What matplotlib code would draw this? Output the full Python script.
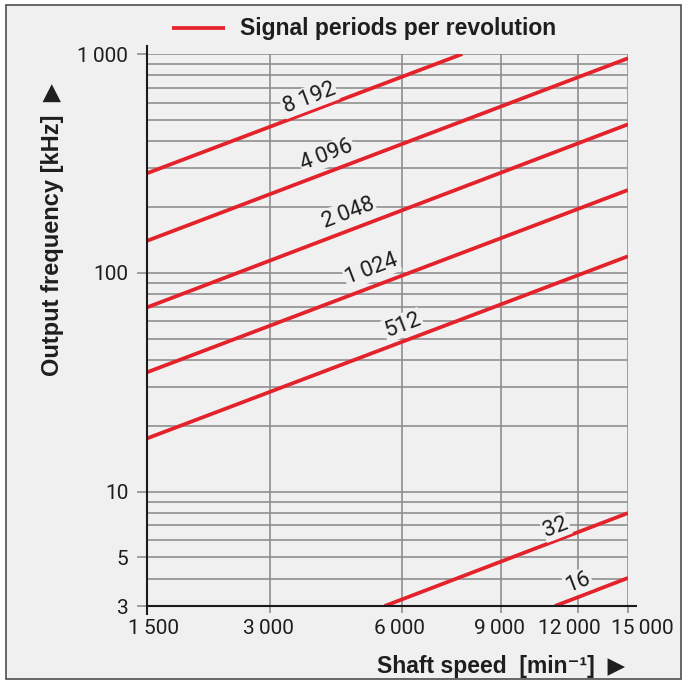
import numpy as np
import matplotlib
matplotlib.use('Agg')
import matplotlib.pyplot as plt
from matplotlib.lines import Line2D
from matplotlib.patches import Rectangle
from matplotlib.ticker import FixedLocator, FixedFormatter, NullFormatter
import matplotlib.transforms as mtransforms

# ---------------- data ----------------
periods = [8192, 4096, 2048, 1024, 512, 32, 16]
period_labels = ['8\u2009192', '4\u2009096', '2\u2009048', '1\u2009024', '512', '32', '16']
start_speed = [1500, 1500, 1500, 1500, 1500, 5480, 11010]   # min^-1
start_freq = [285, 140, 69.5, 35.1, 17.5, 3.0, 3.0]         # kHz
end_speed = [7680, 15000, 15000, 15000, 15000, 15000, 15000]
end_freq = [1000, 956, 477, 239, 119, 7.98, 4.03]

speed_ticks = [1500, 3000, 6000, 9000, 12000, 15000]
speed_tick_labels = ['1\u2009500', '3\u2009000', '6\u2009000', '9\u2009000', '12\u2009000', '15\u2009000']
freq_ticks = [3, 5, 10, 100, 1000]
freq_tick_labels = ['3', '5', '10', '100', '1\u2009000']
freq_minor = [4, 6, 7, 8, 9, 20, 30, 40, 50, 60, 70, 80, 90,
              200, 300, 400, 500, 600, 700, 800, 900]

# ---------------- layout / style ----------------
speed_axis_pos = [0.0, 0.2557, 0.530, 0.736, 0.896, 1.0]   # where the speed ticks sit along the axis
label_pos = [(0.337, 0.920), (0.374, 0.817), (0.418, 0.712), (0.467, 0.610),
             (0.532, 0.509), (0.850, 0.143), (0.896, 0.043)]
tick_label_dx = [7, -2, -2.5, -2, -9, 14]   # px nudges of speed labels

BG = '#f0f0f0'
RED = '#e4222c'
GRID = '#8f8f8f'
TXT = '#1e1e1e'
NUM_FONT = ['Roboto', 'DejaVu Sans']
BOLD_FONT = ['Liberation Sans', 'DejaVu Sans']

_lk = np.log10(speed_ticks)
_pk = np.asarray(speed_axis_pos)


def fwd(x):
    x = np.asarray(x, dtype=float)
    lx = np.log10(np.clip(x, 1e-12, None))
    out = np.interp(lx, _lk, _pk)
    s0 = (_pk[1] - _pk[0]) / (_lk[1] - _lk[0])
    s1 = (_pk[-1] - _pk[-2]) / (_lk[-1] - _lk[-2])
    out = np.where(lx < _lk[0], _pk[0] + (lx - _lk[0]) * s0, out)
    out = np.where(lx > _lk[-1], _pk[-1] + (lx - _lk[-1]) * s1, out)
    return out


def inv(p):
    p = np.asarray(p, dtype=float)
    out = np.interp(p, _pk, _lk)
    s0 = (_lk[1] - _lk[0]) / (_pk[1] - _pk[0])
    s1 = (_lk[-1] - _lk[-2]) / (_pk[-1] - _pk[-2])
    out = np.where(p < _pk[0], _lk[0] + (p - _pk[0]) * s0, out)
    out = np.where(p > _pk[-1], _lk[-1] + (p - _pk[-1]) * s1, out)
    return 10 ** out


W, H = 685, 683
fig = plt.figure(figsize=(W / 100, H / 100), dpi=100)
fig.patch.set_facecolor('white')

# panel frame (behind everything)
fig.patches.append(Rectangle((6 / W, 1 - 679 / H), (681 - 6) / W, (679 - 5) / H,
                             transform=fig.transFigure, facecolor=BG,
                             edgecolor='#4d4d4d', linewidth=1.2, zorder=-10))

ax = fig.add_axes([147 / W, 1 - 606 / H, 481 / W, 552 / H])
ax.set_zorder(1)
ax.patch.set_visible(False)

ax.set_yscale('log')
ax.set_xscale('function', functions=(fwd, inv))
ax.set_xlim(speed_ticks[0], speed_ticks[-1])
ax.set_ylim(freq_ticks[0], freq_ticks[-1])

ax.xaxis.set_major_locator(FixedLocator(speed_ticks))
ax.xaxis.set_major_formatter(NullFormatter())
ax.xaxis.set_minor_locator(FixedLocator([]))
ax.yaxis.set_major_locator(FixedLocator(freq_ticks))
ax.yaxis.set_major_formatter(FixedFormatter(freq_tick_labels))
ax.yaxis.set_minor_locator(FixedLocator(freq_minor))
ax.yaxis.set_minor_formatter(NullFormatter())

ax.grid(True, axis='x', which='major', color=GRID, linewidth=1.2, zorder=1)
ax.grid(True, axis='y', which='both', color=GRID, linewidth=1.2, zorder=1)
ax.set_axisbelow(True)

for s in ['top', 'right']:
    ax.spines[s].set_visible(False)
for s in ['left', 'bottom']:
    ax.spines[s].set_color('#1a1a1a')
    ax.spines[s].set_linewidth(1.5)
    ax.spines[s].set_zorder(5)

ax.tick_params(axis='y', which='major', length=7.5, width=1.2, color=GRID, pad=6,
               labelsize=15, labelcolor=TXT)
ax.tick_params(axis='y', which='minor', length=0)
ax.tick_params(axis='x', which='major', length=5, width=1.2, color=GRID)
for lab in ax.get_yticklabels():
    lab.set_family(NUM_FONT)

# speed tick labels (manually nudged like the original)
for v, txt, dx in zip(speed_ticks, speed_tick_labels, tick_label_dx):
    tr = mtransforms.blended_transform_factory(ax.transData, ax.transAxes) + \
        mtransforms.ScaledTranslation(dx / 100, -13 / 100, fig.dpi_scale_trans)
    ax.text(v, 0, txt, transform=tr, ha='center', va='top', fontsize=15,
            family=NUM_FONT, color=TXT)

# spine extensions
ax.plot([0, 0], [1, 1 + 9 / 552], transform=ax.transAxes, color='#1a1a1a', lw=1.5,
        clip_on=False, solid_capstyle='butt', zorder=5)
ax.plot([0, 0], [0, -9 / 552], transform=ax.transAxes, color='#1a1a1a', lw=1.5,
        clip_on=False, solid_capstyle='butt', zorder=5)
ax.plot([1, 1 + 9 / 481], [0, 0], transform=ax.transAxes, color='#1a1a1a', lw=1.5,
        clip_on=False, solid_capstyle='butt', zorder=5)

# the curves
for x0, y0, x1, y1 in zip(start_speed, start_freq, end_speed, end_freq):
    ax.plot([x0, x1], [y0, y1], color=RED, lw=2.7, solid_capstyle='butt', zorder=3)

# curve labels
for (px, py), txt in zip(label_pos, period_labels):
    ax.text(px, py, txt, transform=ax.transAxes, rotation=20.8, rotation_mode='anchor',
            ha='center', va='center', fontsize=16, family=NUM_FONT,
            color=TXT, zorder=4,
            bbox=dict(facecolor=BG, edgecolor='none', pad=1.0))

# legend (top)
fig.add_artist(Line2D([172 / W, 225 / W], [1 - 28 / H, 1 - 28 / H], color=RED, lw=2.7,
                      solid_capstyle='butt'))
fig.text(240 / W, 1 - 28 / H, 'Signal periods per revolution', ha='left', va='center',
         fontsize=16.5, fontweight='bold', family=BOLD_FONT, color=TXT)

# axis titles
fig.text(53 / W, 1 - 230 / H, 'Output frequency [kHz]  \u25B6', rotation=90,
         ha='center', va='center', fontsize=17, fontweight='bold', family=BOLD_FONT,
         color=TXT)
fig.text(625 / W, 1 - 666 / H, 'Shaft speed  [min\u207B\u00B9]  \u25B6', ha='right',
         va='center', fontsize=16.5, fontweight='bold', family=BOLD_FONT, color=TXT)

fig.savefig('out.png', dpi=100, facecolor=fig.get_facecolor())
